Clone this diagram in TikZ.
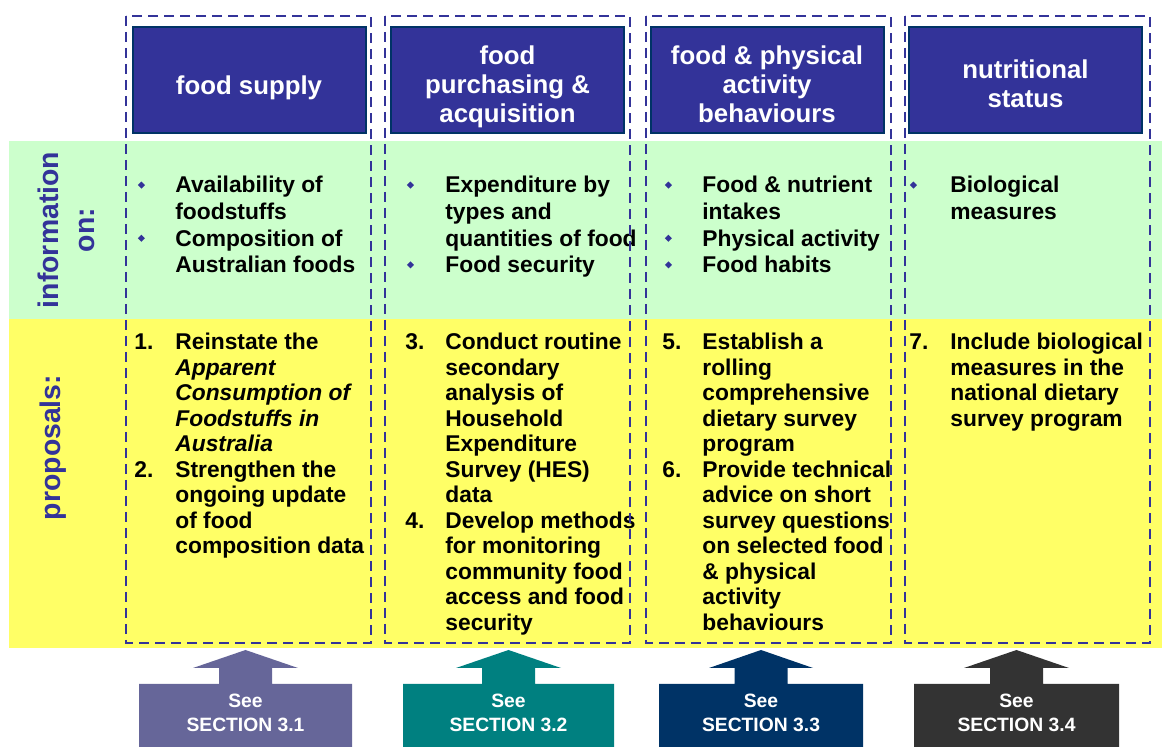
\documentclass[tikz,border=0pt]{standalone}
\usepackage{fontspec}
\setmainfont{Liberation Sans}
\usepackage{xcolor}
\usepackage{tikz}
\usetikzlibrary{positioning}

\definecolor{infogreen}{HTML}{CCFFCC}
\definecolor{propyellow}{HTML}{FFFF66}
\definecolor{inkblue}{HTML}{333399}
\definecolor{headedge}{HTML}{003366}
\definecolor{secA}{HTML}{666699}
\definecolor{secB}{HTML}{008080}
\definecolor{secC}{HTML}{003366}
\definecolor{secD}{HTML}{333333}

% small blue diamond bullet
\newcommand{\bul}{\raisebox{2.2pt}{\rotatebox{45}{\color{inkblue}\rule{2.5pt}{2.5pt}}}}
% marker column + text column
\newcommand{\marklist}[2]{\begin{tabular}[t]{@{}p{#1}@{}l@{}}#2\end{tabular}}

\begin{document}
\begin{tikzpicture}[x=0.5pt,y=-0.5pt,
            head/.style={rectangle,draw=headedge,line width=1pt,fill=inkblue,
              minimum width=116.5pt,minimum height=53pt},
            headtext/.style={align=center,text=white,yshift=-2pt,
              font=\fontsize{12.9}{14.5}\selectfont\bfseries},
            rowlabel/.style={rotate=90,anchor=north,inner sep=0pt,align=center,text=inkblue,
              font=\fontsize{14.2}{17.8}\selectfont\bfseries},
            info/.style={anchor=base west,inner sep=0pt,font=\fontsize{11.4}{13.3}\selectfont\bfseries},
            prop/.style={anchor=base west,inner sep=0pt,font=\fontsize{11.4}{12.75}\selectfont\bfseries},
            column/.style={draw=inkblue,line width=1.25pt,dash pattern=on 5pt off 3pt},
            seelabel/.style={align=center,text=white,inner sep=0pt,
              font=\fontsize{9.65}{12}\selectfont\bfseries}]
            \useasboundingbox (0,0) rectangle (1162,747);

            % bands
            \fill[infogreen] (9,141) rectangle (1162,319);
            \fill[propyellow] (9,319) rectangle (1162,648);

            \node[rowlabel] (lblinfo) at (37.7,230) {information\\on:};
            \node[rowlabel] (lblprop) at (40,447.5) {proposals:};

            % column headings
            \node[head,label={[headtext,yshift=-2pt]center:food supply}] (h1) at (249,80) {};
            \node[head,label={[headtext,yshift=-1.5pt]center:food\\purchasing \&\\acquisition}] (h2) at (507.5,80) {};
            \node[head,label={[headtext]center:food \& physical\\activity\\behaviours}] (h3) at (767,80) {};
            \node[head,label={[headtext]center:nutritional\\status}] (h4) at (1025.5,80) {};

            % information on
            \node[info] (inf1) at (137.5,193) {\marklist{18.75pt}{%
              \bul & Availability of\\ & foodstuffs\\
              \bul & Composition of\\ & Australian foods}};
            \node[info] (inf2) at (406.5,193) {\marklist{19.25pt}{%
              \bul & Expenditure by\\ & types and\\ & quantities of food\\
              \bul & Food security}};
            \node[info] (inf3) at (664.5,193) {\marklist{18.75pt}{%
              \bul & Food \& nutrient\\ & intakes\\
              \bul & Physical activity\\
              \bul & Food habits}};
            \node[info] (inf4) at (909.5,193) {\marklist{20.25pt}{%
              \bul & Biological\\ & measures}};

            % proposals
            \node[prop] (prop1) at (134,350) {\marklist{20.5pt}{%
              1. & Reinstate the\\ & \textit{Apparent}\\ & \textit{Consumption of}\\
                 & \textit{Foodstuffs in}\\ & \textit{Australia}\\
              2. & Strengthen the\\ & ongoing update\\ & of food\\ & composition data}};
            \node[prop] (prop2) at (405,350) {\marklist{20pt}{%
              3. & Conduct routine\\ & secondary\\ & analysis of\\ & Household\\
                 & Expenditure\\ & Survey (HES)\\ & data\\
              4. & Develop methods\\ & for monitoring\\ & community food\\
                 & access and food\\ & security}};
            \node[prop] (prop3) at (662,350) {\marklist{20pt}{%
              5. & Establish a\\ & rolling\\ & comprehensive\\ & dietary survey\\ & program\\
              6. & Provide technical\\ & advice on short\\ & survey questions\\
                 & on selected food\\ & \& physical\\ & activity\\ & behaviours}};
            \node[prop] (prop4) at (909,350) {\marklist{20.5pt}{%
              7. & Include biological\\ & measures in the\\ & national dietary\\
                 & survey program}};

            % dashed column frames
            \draw[column] (126,16) rectangle (371,643);
            \draw[column] (385,16) rectangle (630,643);
            \draw[column] (646,16) rectangle (891,643);
            \draw[column] (905,16) rectangle (1150,643);

            % section arrows
            \fill[secA] (139,747) -- (139,684) -- (219,684) -- (219,668) -- (193,668) -- (245.5,650)
              -- (298,668) -- (272,668) -- (272,684) -- (352,684) -- (352,747) -- cycle;
            \fill[secB] (403,747) -- (403,684) -- (482,684) -- (482,668) -- (456,668) -- (508.5,650)
              -- (561,668) -- (535,668) -- (535,684) -- (614,684) -- (614,747) -- cycle;
            \fill[secC] (659,747) -- (659,684) -- (734.5,684) -- (734.5,668) -- (709,668) -- (761,650)
              -- (813,668) -- (787.5,668) -- (787.5,684) -- (863,684) -- (863,747) -- cycle;
            \fill[secD] (914,747) -- (914,684) -- (990,684) -- (990,668) -- (964,668) -- (1016.5,650)
              -- (1069,668) -- (1043,668) -- (1043,684) -- (1119,684) -- (1119,747) -- cycle;

            \node[seelabel] (see1) at (245.5,712.5) {See\\SECTION 3.1};
            \node[seelabel] (see2) at (508.5,712.5) {See\\SECTION 3.2};
            \node[seelabel] (see3) at (761,712.5) {See\\SECTION 3.3};
            \node[seelabel] (see4) at (1016.5,712.5) {See\\SECTION 3.4};
        \end{tikzpicture}
\end{document}
